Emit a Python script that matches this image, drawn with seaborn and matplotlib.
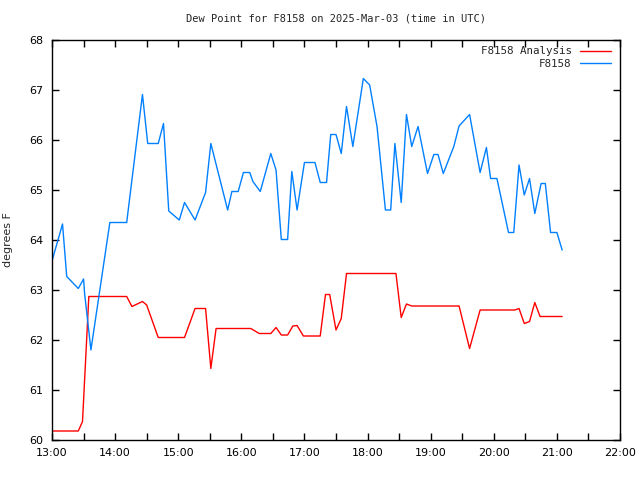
import seaborn as sns
import pandas as pd
import matplotlib
matplotlib.use('Agg')
import matplotlib.pyplot as plt
import matplotlib.dates as mdates

# F8158 station obs (time UTC, dew point F)
obs_times = ['13:00', '13:10', '13:14', '13:25', '13:30', '13:31', '13:37', '13:55', '14:11',
             '14:26', '14:31', '14:41', '14:46', '14:51', '15:01', '15:06', '15:16', '15:26',
             '15:31', '15:47', '15:51', '15:57', '16:02', '16:08', '16:11', '16:18', '16:28',
             '16:33', '16:38', '16:44', '16:48', '16:53', '17:00', '17:10', '17:15', '17:21',
             '17:25', '17:30', '17:35', '17:40', '17:46', '17:56', '18:02', '18:09', '18:17',
             '18:22', '18:26', '18:32', '18:37', '18:42', '18:48', '18:57', '19:03', '19:07',
             '19:12', '19:22', '19:27', '19:37', '19:47', '19:53', '19:57', '20:03', '20:14',
             '20:19', '20:24', '20:29', '20:34', '20:39', '20:45', '20:49', '20:54', '21:00',
             '21:05']
obs_dewpt = [63.58, 64.32, 63.27, 63.03, 63.22, 62.93, 61.80, 64.35, 64.35,
             66.91, 65.93, 65.93, 66.33, 64.58, 64.40, 64.75, 64.40, 64.95,
             65.93, 64.60, 64.97, 64.97, 65.35, 65.35, 65.17, 64.97, 65.73,
             65.40, 64.01, 64.01, 65.37, 64.60, 65.55, 65.55, 65.15, 65.15,
             66.11, 66.11, 65.73, 66.67, 65.87, 67.23, 67.10, 66.27, 64.60,
             64.60, 65.93, 64.75, 66.51, 65.87, 66.27, 65.33, 65.71, 65.71,
             65.33, 65.87, 66.28, 66.51, 65.35, 65.85, 65.23, 65.23, 64.15,
             64.15, 65.50, 64.90, 65.23, 64.53, 65.13, 65.13, 64.15, 64.15,
             63.80]

# analysis values
ana_times = ['13:00', '13:25', '13:29', '13:35', '14:11', '14:16', '14:26', '14:30', '14:41',
             '15:06', '15:16', '15:26', '15:31', '15:36', '16:09', '16:17', '16:28', '16:33',
             '16:38', '16:44', '16:49', '16:53', '16:59', '17:15', '17:20', '17:24', '17:30',
             '17:35', '17:40', '18:27', '18:32', '18:37', '18:42', '19:27', '19:37', '19:47',
             '20:20', '20:24', '20:29', '20:34', '20:39', '20:44', '21:05']
ana_dewpt = [60.18, 60.18, 60.37, 62.87, 62.87, 62.67, 62.77, 62.70, 62.05,
             62.05, 62.63, 62.63, 61.43, 62.23, 62.23, 62.13, 62.13, 62.25,
             62.10, 62.10, 62.28, 62.29, 62.08, 62.08, 62.91, 62.91, 62.20,
             62.43, 63.33, 63.33, 62.45, 62.72, 62.68, 62.68, 61.83, 62.60,
             62.60, 62.63, 62.33, 62.37, 62.75, 62.47, 62.47]

day = '2025-03-03 '
obs = pd.DataFrame({'time': pd.to_datetime([day + t for t in obs_times]), 'dewpt': obs_dewpt})
ana = pd.DataFrame({'time': pd.to_datetime([day + t for t in ana_times]), 'dewpt': ana_dewpt})

sns.set_style('ticks')
plt.rcParams['font.family'] = ['DejaVu Sans']

fig = plt.figure(figsize=(6.4, 4.8), dpi=100)
ax = fig.add_axes([52 / 640, 40 / 480, 568 / 640, 400 / 480])

sns.lineplot(data=ana, x='time', y='dewpt', color='#ff0000', lw=1, label='F8158 Analysis', ax=ax)
sns.lineplot(data=obs, x='time', y='dewpt', color='#0080ff', lw=1, label='F8158', ax=ax)

ax.set_xlim(pd.Timestamp(day + '13:00'), pd.Timestamp(day + '22:00'))
ax.set_ylim(60, 68)
ax.set_yticks(range(60, 69))
ax.xaxis.set_major_locator(mdates.HourLocator())
ax.xaxis.set_minor_locator(mdates.MinuteLocator(byminute=30))
ax.xaxis.set_major_formatter(mdates.DateFormatter('%H:%M'))
ax.tick_params(which='both', direction='in', top=True, right=True, length=5, width=1,
               labelsize=8, colors='black', pad=6)

for s in ax.spines.values():
    s.set_visible(True)
    s.set_color('black')
    s.set_linewidth(1)

ax.set_xlabel('')
ax.set_ylabel('degrees F', fontsize=8, labelpad=12)
ax.set_title('Dew Point for F8158 on 2025-Mar-03 (time in UTC)', fontsize=7.5,
             family='DejaVu Sans Mono', pad=13)

leg = ax.legend(loc='upper right', frameon=False, markerfirst=False, handlelength=2.8,
                handletextpad=0.8, prop={'family': 'DejaVu Sans Mono', 'size': 7.8},
                borderaxespad=0.2, labelspacing=0.2, bbox_to_anchor=(0.995, 1.0))
for t in leg.get_texts():
    t.set_ha('right')

fig.savefig('out.png', dpi=100, facecolor='white')
